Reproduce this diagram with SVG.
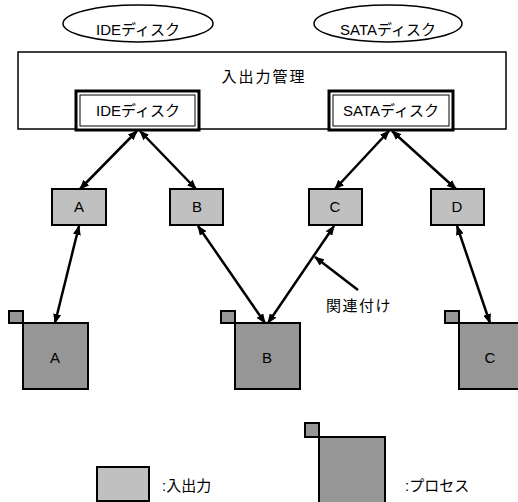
<svg xmlns="http://www.w3.org/2000/svg" width="518" height="502" viewBox="0 0 518 502">
<style>
text{font-family:"Liberation Sans","Noto Sans CJK JP",sans-serif;font-size:15px;fill:#000;text-anchor:middle}
.io{fill:#c0c0c0;stroke:#000;stroke-width:2}
.pr{fill:#969696;stroke:#000;stroke-width:2}
.c{stroke:#000;stroke-width:2.5;fill:none}
</style>
<defs>
<marker id="ah" viewBox="0 0 10 8" refX="9" refY="4" markerWidth="10" markerHeight="8" markerUnits="userSpaceOnUse" orient="auto-start-reverse">
<path d="M0,0 L10,4 L0,8 z" fill="#000"/>
</marker>
</defs>
<g id="ell-ide"><ellipse cx="138" cy="23.5" rx="75" ry="18.5" fill="#fff" stroke="#000" stroke-width="1.5"/><text x="138" y="35">IDEディスク</text></g>
<g id="ell-sata"><ellipse cx="388" cy="23.5" rx="74" ry="18.5" fill="#fff" stroke="#000" stroke-width="1.5"/><text x="388" y="35">SATAディスク</text></g>
<g id="iomgr"><rect x="18" y="52" width="488" height="77" fill="#fff" stroke="#000" stroke-width="1.5"/><text x="264" y="82" style="letter-spacing:2px">入出力管理</text></g>
<g id="drv-ide"><rect x="76" y="91" width="123" height="39" fill="#fff" stroke="#000" stroke-width="3"/><rect x="80" y="95" width="115" height="31" fill="none" stroke="#000" stroke-width="1"/><text x="138" y="116">IDEディスク</text></g>
<g id="drv-sata"><rect x="329" y="91" width="124" height="39" fill="#fff" stroke="#000" stroke-width="3"/><rect x="333" y="95" width="116" height="31" fill="none" stroke="#000" stroke-width="1"/><text x="391" y="116">SATAディスク</text></g>
<g id="io-a"><rect class="io" x="52" y="189" width="54" height="36"/><text x="79" y="212">A</text></g>
<g id="io-b"><rect class="io" x="170" y="189" width="53" height="36"/><text x="197" y="212">B</text></g>
<g id="io-c"><rect class="io" x="309" y="189" width="53" height="36"/><text x="335" y="212">C</text></g>
<g id="io-d"><rect class="io" x="431" y="189" width="53" height="36"/><text x="457" y="212">D</text></g>
<g id="proc-a"><rect class="pr" x="9" y="311" width="14" height="12"/><rect class="pr" x="23" y="323" width="65" height="66"/><text x="55" y="363">A</text></g>
<g id="proc-b"><rect class="pr" x="221" y="311" width="14" height="12"/><rect class="pr" x="235" y="323" width="65" height="66"/><text x="267" y="363">B</text></g>
<g id="proc-c"><rect class="pr" x="445" y="311" width="14" height="12"/><rect class="pr" x="459" y="323" width="66" height="66"/><text x="490" y="363">C</text></g>
<g id="connectors">
<line class="c" x1="137" y1="131" x2="80" y2="189" marker-start="url(#ah)" marker-end="url(#ah)"/>
<line class="c" x1="140" y1="131" x2="196" y2="189" marker-start="url(#ah)" marker-end="url(#ah)"/>
<line class="c" x1="389" y1="131" x2="335" y2="189" marker-start="url(#ah)" marker-end="url(#ah)"/>
<line class="c" x1="392" y1="131" x2="456" y2="189" marker-start="url(#ah)" marker-end="url(#ah)"/>
<line class="c" x1="79" y1="226" x2="55" y2="323" marker-start="url(#ah)" marker-end="url(#ah)"/>
<line class="c" x1="198" y1="226" x2="265" y2="323" marker-start="url(#ah)" marker-end="url(#ah)"/>
<line class="c" x1="334" y1="226" x2="268" y2="323" marker-start="url(#ah)" marker-end="url(#ah)"/>
<line class="c" x1="457" y1="226" x2="490" y2="323" marker-start="url(#ah)" marker-end="url(#ah)"/>
<line class="c" x1="358" y1="290" x2="315" y2="257" marker-end="url(#ah)"/>
</g>
<g id="label-assoc"><text x="359" y="311" style="letter-spacing:1.5px">関連付け</text></g>
<g id="legend">
<rect class="io" x="97" y="467" width="52" height="34"/><text x="162" y="491" style="text-anchor:start">:入出力</text>
<rect class="pr" x="305" y="423" width="14" height="14"/><rect class="pr" x="319" y="437" width="66" height="66"/><text x="405" y="491" style="text-anchor:start">:プロセス</text>
</g>
</svg>
